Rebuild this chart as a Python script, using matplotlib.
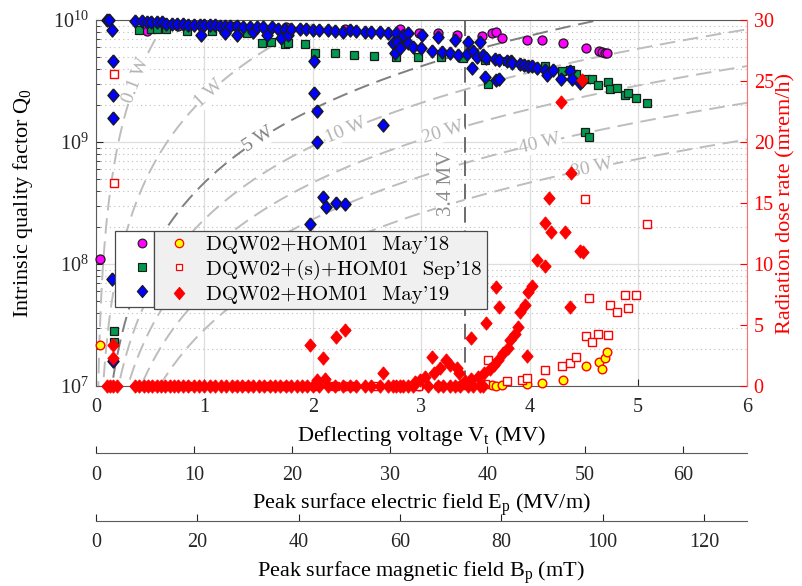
import numpy as np
import matplotlib
matplotlib.use('Agg')
import matplotlib.pyplot as plt
from matplotlib.lines import Line2D
from matplotlib.ticker import NullLocator, LogLocator

plt.rcParams['font.family'] = 'Liberation Serif'
plt.rcParams['mathtext.fontset'] = 'custom'
plt.rcParams['mathtext.rm'] = 'Liberation Serif'
plt.rcParams['mathtext.it'] = 'Liberation Serif:italic'
plt.rcParams['mathtext.bf'] = 'Liberation Serif:bold'

# ---------------- data ----------------
# May'18 : Q0 (magenta) and radiation (yellow)
vt_may18 = [0.04, 0.47, 0.76, 1.28, 1.75, 2.30, 2.80, 2.98, 3.15, 3.33, 3.56, 3.65,
            3.69, 3.74, 3.97, 4.11, 4.31, 4.52, 4.64, 4.67, 4.69, 4.71]
q0_may18 = [1.1e8, 8.1e9, 8.9e9, 8.9e9, 8.7e9, 8.5e9, 8.5e9, 7.8e9, 7.8e9, 7.6e9, 7.4e9, 7.8e9,
            7.9e9, 7.1e9, 6.9e9, 6.8e9, 6.5e9, 5.9e9, 5.6e9, 5.5e9, 5.4e9, 5.4e9]
dose_may18 = [3.4, 0, 0, 0, 0, 0, 0, 0, 0, 0.0, 0.0, 0.05,
              0.0, 0.05, 0.15, 0.25, 0.5, 1.6, 2.0, 1.4, 2.3, 2.8]

# Sep'18 : Q0 (green) and radiation (red open squares)
vt_sep18 = [0.17, 0.17, 0.40, 0.51, 0.56, 0.65, 0.84, 1.07, 1.39, 1.53, 1.61, 1.74, 1.77, 1.93,
            2.02, 2.20, 2.38, 2.56, 2.77, 2.97, 3.18, 3.38, 3.59, 3.61, 3.79, 3.93, 3.97,
            4.14, 4.30, 4.37, 4.43, 4.51, 4.52, 4.55, 4.57, 4.63, 4.72, 4.74, 4.80, 4.88,
            4.91, 4.98, 5.08]
q0_sep18 = [2.8e7, 2.3e7, 8.3e9, 8.5e9, 8.5e9, 8.5e9, 8.1e9, 8.1e9, 7.8e9, 6.5e9, 6.6e9, 6.3e9,
            6.5e9, 6.3e9, 5.4e9, 5.4e9, 5.2e9, 5.1e9, 5.0e9, 5.0e9, 5.0e9, 4.9e9, 4.7e9, 3.0e9,
            4.6e9, 4.3e9, 4.2e9, 4.2e9, 3.8e9, 3.9e9, 3.6e9, 1.2e9, 3.3e9, 1.1e9, 3.3e9, 2.95e9,
            3.1e9, 2.7e9, 2.75e9, 2.45e9, 2.5e9, 2.3e9, 2.1e9]
dose_sep18 = [25.6, 16.6, 0, 0, 0, 0, 0, 0, 0, 0, 0, 0, 0, 0,
              0, 0, 0, 0, 0, 0, 0, 0.1, 0.2, 2.1, 0.4, 0.5, 0.65,
              1.3, 1.6, 1.9, 2.4, 15.3, 4.1, 7.2, 3.6, 4.3, 4.2, 6.6, 6.1, 7.5,
              6.4, 7.5, 13.3]

# May'19 : Q0 (blue diamonds)
vt_may19 = [0.10, 0.12, 0.15, 0.16, 0.16, 0.16, 0.15, 0.16,
            0.36, 0.42, 0.47, 0.51, 0.56, 0.61, 0.65, 0.70, 0.75, 0.80, 0.85, 0.90, 0.96, 0.97,
            1.00, 1.05, 1.10, 1.14, 1.19, 1.19, 1.24, 1.30, 1.30, 1.36, 1.42, 1.45, 1.48, 1.54,
            1.58, 1.62, 1.68, 1.71, 1.74, 1.77, 1.80, 1.88, 1.94, 1.97, 2.00, 2.01, 2.01, 2.04,
            2.04, 2.06, 2.09, 2.12, 2.14, 2.20, 2.21, 2.28, 2.30, 2.34, 2.40, 2.48, 2.54, 2.62,
            2.65, 2.69, 2.74, 2.76, 2.77, 2.78, 2.80, 2.83, 2.88, 2.88, 2.92, 3.00, 3.01, 3.10,
            3.15, 3.19, 3.26, 3.31, 3.34, 3.42, 3.43, 3.47, 3.48, 3.51, 3.54, 3.57, 3.59, 3.60,
            3.68, 3.69, 3.72, 3.72, 3.79, 3.83, 3.84, 3.91, 3.95, 3.98, 4.02, 4.07, 4.14, 4.16,
            4.21, 4.29, 4.37, 4.39, 4.46, 4.48]
q0_may19 = [1.0e10, 1.0e10, 8.3e9, 4.6e9, 2.45e9, 1.58e9, 7.6e7, 1.6e7,
            9.77e9, 9.77e9, 9.55e9, 9.55e9, 9.55e9, 9.55e9, 9.33e9, 9.33e9, 9.33e9, 9.33e9,
            9.12e9, 9.12e9, 9.12e9, 7.59e9,
            9.12e9, 9.12e9, 9.12e9, 8.91e9, 8.91e9, 7.76e9, 8.91e9, 8.91e9, 7.59e9, 8.71e9,
            8.71e9, 7.94e9, 8.71e9, 8.71e9,
            7.59e9, 8.71e9, 8.51e9, 7.08e9, 8.51e9, 7.59e9, 8.51e9, 8.51e9, 8.51e9, 2.14e8,
            8.32e9, 4.57e9, 2.51e9, 1.78e9,
            1.0e9, 8.32e9, 3.55e8, 2.95e8, 8.32e9, 8.13e9, 3.16e8, 7.94e9, 3.09e8, 8.32e9,
            8.13e9, 7.94e9, 7.94e9, 7.94e9,
            1.38e9, 7.76e9, 6.46e9, 5.37e9, 7.76e9, 6.61e9, 5.89e9, 7.59e9, 7.76e9, 6.46e9,
            6.03e9, 5.89e9, 7.59e9, 5.62e9,
            7.24e9, 5.50e9, 5.37e9, 6.92e9, 5.13e9, 5.25e9, 6.61e9, 4.07e9, 5.62e9, 5.01e9,
            6.61e9, 5.13e9, 3.39e9, 4.90e9,
            4.79e9, 3.24e9, 4.68e9, 3.31e9, 4.57e9, 4.57e9, 4.47e9, 4.37e9, 4.27e9, 4.17e9,
            4.17e9, 4.07e9, 3.89e9, 3.55e9,
            3.89e9, 3.31e9, 3.80e9, 3.31e9, 3.02e9, 3.16e9]

# May'19 : radiation (red diamonds)
vt_may19_rad = [0.10, 0.13, 0.16, 0.19, 0.16, 0.16,
                0.36, 0.40, 0.44, 0.48, 0.52, 0.56, 0.60, 0.64, 0.68, 0.72, 0.76, 0.80, 0.85,
                0.90, 0.95, 1.00, 1.05, 1.10, 1.15, 1.20, 1.25, 1.30, 1.35, 1.40, 1.45, 1.50,
                1.55, 1.60, 1.65, 1.70, 1.75, 1.80, 1.85, 1.90, 1.95, 2.00, 2.06, 2.14, 2.20,
                2.28, 2.34, 2.40, 2.48, 2.54, 2.62, 2.69, 2.74, 2.77, 2.80, 2.83, 2.88, 2.92,
                3.06, 3.15, 3.20, 3.26, 3.31, 3.36, 3.43, 3.48, 3.54, 3.57,
                1.97, 2.04, 2.09, 2.11, 2.21, 2.30, 2.65, 2.94, 2.99, 3.03, 3.10, 3.12, 3.17,
                3.23, 3.26, 3.33, 3.35, 3.40, 3.46, 3.46, 3.52, 3.58, 3.60, 3.63, 3.67, 3.69,
                3.71, 3.72, 3.75, 3.80, 3.82, 3.86, 3.89, 3.91, 3.96, 3.97, 3.98, 4.02, 4.07,
                4.14, 4.14, 4.18, 4.20, 4.29, 4.32, 4.37, 4.38, 4.46, 4.48, 4.49]
dose_may19 = [0, 0, 0, 0, 3.4, 2.3,
              0, 0, 0, 0, 0, 0, 0, 0, 0, 0, 0, 0, 0,
              0, 0, 0, 0, 0, 0, 0, 0, 0, 0, 0, 0, 0,
              0, 0, 0, 0, 0, 0, 0, 0, 0, 0, 0, 0, 0,
              0, 0, 0, 0, 0, 0, 0, 0, 0, 0, 0, 0, 0,
              0, 0, 0, 0, 0, 0, 0, 0, 0, 0,
              3.4, 0.5, 2.3, 0.55, 4.0, 4.6, 1.1, 0.3, 0.5, 0.7, 2.4, 1.1, 1.5,
              2.1, 1.7, 1.5, 1.1, 0.4, 0.55, 3.9, 0.7, 1.1, 5.2, 1.4, 1.7, 8.1,
              2.1, 6.5, 2.7, 3.1, 3.8, 4.3, 4.8, 6.1, 6.6, 2.5, 7.7, 8.2, 10.3,
              9.8, 13.4, 15.4, 12.6, 23.3, 12.6, 6.5, 17.5, 11.1, 25.1, 11.0]

iso_powers = [0.1, 1, 5, 10, 20, 40, 80]          # W
iso_label_vt = [0.37, 1.04, 1.50, 2.30, 3.20, 4.09, 4.57]
r_over_q = 430.0                                   # Ohm
v_marker = 3.4                                     # MV

legend_labels = ["DQW02+HOM01  May'18", "DQW02+(s)+HOM01  Sep'18", "DQW02+HOM01  May'19"]
ep_ticks = [0, 10, 20, 30, 40, 50, 60]
bp_ticks = [0, 20, 40, 60, 80, 100, 120]
ep_max, bp_max = 66.5, 128.4   # field at 6 MV

# ---------------- figure ----------------
fig = plt.figure(figsize=(8.02, 5.86), dpi=100)
L, B = 96 / 802, (586 - 386) / 586
W, H = (746.7 - 96) / 802, 366 / 586
ax = fig.add_axes([L, B, W, H])
ax.set_yscale('log')
ax.set_xlim(0, 6)
ax.set_ylim(1e7, 1e10)
ax.set_axisbelow(True)

grey_spine = '#5a5a5a'
for s in ['left', 'top', 'bottom']:
    ax.spines[s].set_color(grey_spine)
    ax.spines[s].set_linewidth(0.8)
ax.spines['right'].set_visible(False)

ax.xaxis.set_minor_locator(NullLocator())
ax.yaxis.set_major_locator(LogLocator(base=10, numticks=10))
ax.yaxis.set_minor_locator(LogLocator(base=10, subs=np.arange(2, 10), numticks=20))
ax.tick_params(axis='both', which='both', direction='in', colors='#262626', labelsize=14.5)
ax.tick_params(axis='y', which='major', length=5, pad=5)
ax.tick_params(axis='x', which='major', length=5, pad=9)
ax.tick_params(axis='y', which='minor', length=3)
ax.tick_params(axis='x', top=False)
ax.grid(which='major', color='#dedede', lw=0.9, ls='-')
ax.grid(which='minor', axis='y', color='#bdbdbd', lw=0.8, ls=(0, (1, 3)))

# iso-power lines
vv = np.linspace(0.005, 6.2, 500)
dash = (0, (8, 4))
for P, vl in zip(iso_powers, iso_label_vt):
    col = '#7f7f7f' if P == 5 else '#bdbdbd'
    tcol = '#808080' if P == 5 else '#b4b4b4'
    ax.plot(vv, (vv * 1e6) ** 2 / (r_over_q * P), color=col, lw=1.4, ls=dash, zorder=1.2)
    ql = (vl * 1e6) ** 2 / (r_over_q * P)
    p1 = ax.transData.transform((vl, ql))
    p2 = ax.transData.transform((vl * 1.01, ql * 1.0201))
    ang = np.degrees(np.arctan2(p2[1] - p1[1], p2[0] - p1[0]))
    lab = ('%g W' % P)
    ax.text(vl, ql, lab, rotation=ang, rotation_mode='anchor', ha='center', va='center',
            color=tcol, fontsize=14, zorder=1.5,
            bbox=dict(facecolor='white', edgecolor='none', pad=0.6))

ax.axvline(v_marker, color='#6b6b6b', lw=1.4, ls=dash, zorder=1.3)
ax.text(v_marker - 0.17, 4.6e8, '%.1f MV' % v_marker, rotation=90, ha='center', va='center',
        color='#8c8c8c', fontsize=15, zorder=1.5,
        bbox=dict(facecolor='white', edgecolor='none', pad=0.3))

# diamond marker
diam = [(0, 1), (0.85, 0), (0, -1), (-0.85, 0), (0, 1)]

ax.plot(vt_may18, q0_may18, ls='none', marker='o', ms=6.5, mfc='#ff00ff', mec='#1a1a1a', mew=0.9,
        clip_on=False, zorder=3)
ax.plot(vt_sep18, q0_sep18, ls='none', marker='s', ms=5.6, mfc='#00994d', mec='#1a1a1a', mew=0.9,
        clip_on=False, zorder=3)
ax.plot(vt_may19, q0_may19, ls='none', marker=diam, ms=9.4, mfc='#0000ff', mec='#1a1a1a', mew=1.0,
        clip_on=False, zorder=3)

ax.set_xlabel('Deflecting voltage V$_\\mathrm{t}$ (MV)', fontsize=16, labelpad=5)
ax.set_ylabel('Intrinsic quality factor Q$_0$', fontsize=16, labelpad=13)

# right axis
ax2 = ax.twinx()
ax2.set_ylim(0, 30)
ax2.set_yticks(range(0, 31, 5))
for s in ['left', 'top', 'bottom']:
    ax2.spines[s].set_visible(False)
ax2.spines['right'].set_color('#ff7070')
ax2.spines['right'].set_linewidth(0.8)
ax2.tick_params(axis='y', which='major', direction='in', colors='red', labelsize=14.5, length=5, pad=5)
ax2.set_ylabel('Radiation dose rate (mrem/h)', color='red', fontsize=16, labelpad=2)

ax2.plot(vt_may18, dose_may18, ls='none', marker='o', ms=6.2, mfc='#ffff00', mec='red', mew=1.0,
         clip_on=False, zorder=3)
ax2.plot(vt_sep18, dose_sep18, ls='none', marker='s', ms=5.2, mfc='white', mec='red', mew=1.0,
         clip_on=False, zorder=3)
ax2.plot(vt_may19_rad, dose_may19, ls='none', marker=diam, ms=9.6, mfc='red', mec='red', mew=0.6,
         clip_on=False, zorder=3)

# legends (two boxes side by side)
hM = Line2D([], [], ls='none', marker='o', ms=6.3, mfc='#ff00ff', mec='#1a1a1a', mew=0.8)
hG = Line2D([], [], ls='none', marker='s', ms=5.4, mfc='#00994d', mec='#1a1a1a', mew=0.8)
hB = Line2D([], [], ls='none', marker=diam, ms=8.8, mfc='#0000ff', mec='#1a1a1a', mew=0.8)
hY = Line2D([], [], ls='none', marker='o', ms=6.0, mfc='#ffff00', mec='red', mew=0.9)
hS = Line2D([], [], ls='none', marker='s', ms=5.0, mfc='white', mec='red', mew=0.9)
hR = Line2D([], [], ls='none', marker=diam, ms=9.0, mfc='red', mec='red', mew=0.6)

xsep = (154 - 96) / 651.0
ytop = (386 - 230.7) / 366.0
lprop = {'family': 'cmr10', 'size': 15}
common = dict(bbox_transform=ax.transAxes, borderaxespad=0, fancybox=False, framealpha=1,
              edgecolor='#4a4a4a', prop=lprop, numpoints=1, borderpad=0.22, labelspacing=0.28)
legA = ax2.legend([hM, hG, hB], ['', '', ''], loc='upper right', bbox_to_anchor=(xsep, ytop),
                  markerfirst=False, handlelength=0.75, handletextpad=0.68, facecolor='white', **common)
legA.get_frame().set_linewidth(0.9)
ax2.add_artist(legA)
legB = ax2.legend([hY, hS, hR], legend_labels, loc='upper left', bbox_to_anchor=(xsep, ytop),
                  handlelength=2.0, handletextpad=0.3, facecolor='#f0f0f0', **common)
legB.get_frame().set_linewidth(0.9)

# secondary field axes
def field_axis(ypix, vmax, ticks, label):
    a = fig.add_axes([L, (586 - ypix) / 586, W, 1e-6])
    a.set_xlim(0, vmax)
    a.set_xticks(ticks)
    for s in ['left', 'right', 'top']:
        a.spines[s].set_visible(False)
    a.spines['bottom'].set_color(grey_spine)
    a.spines['bottom'].set_linewidth(0.8)
    a.yaxis.set_visible(False)
    a.patch.set_visible(False)
    a.tick_params(axis='x', direction='in', length=5, colors='#262626', labelsize=14.5, pad=9)
    a.set_xlabel(label, fontsize=16, labelpad=5)
    return a

field_axis(453, ep_max, ep_ticks, 'Peak surface electric field E$_\\mathrm{p}$ (MV/m)')
field_axis(520.7, bp_max, bp_ticks, 'Peak surface magnetic field B$_\\mathrm{p}$ (mT)')

fig.savefig('out.png', dpi=100)
